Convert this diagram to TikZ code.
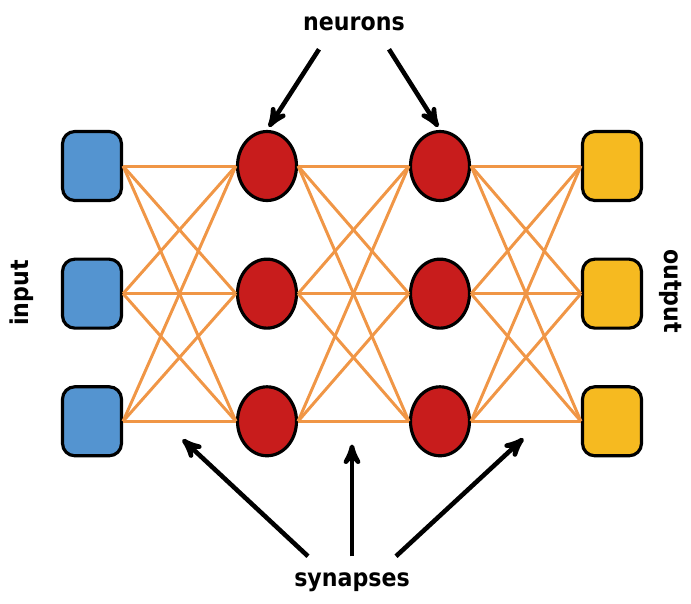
\documentclass[tikz,border=0pt]{standalone}
\usepackage{fontspec}
\setmainfont{DejaVu Sans Condensed}
\usetikzlibrary{arrows,positioning,shapes.geometric}

\definecolor{inblue}{RGB}{84,148,208}
\definecolor{neured}{RGB}{200,28,28}
\definecolor{outyel}{RGB}{246,186,32}
\definecolor{synorg}{RGB}{240,150,70}

\begin{document}
\begin{tikzpicture}[x=0.02cm,y=-0.02cm,>=stealth',
    unit/.style={draw=black,line width=1.8pt,minimum width=1.18cm,minimum height=1.38cm,inner sep=0pt},
    inunit/.style={unit,fill=inblue,rounded corners=7pt},
    outunit/.style={unit,fill=outyel,rounded corners=7pt},
    neuron/.style={unit,fill=neured,ellipse},
    synapse/.style={draw=synorg,line width=1.7pt},
    pointer/.style={->,line width=2.6pt,shorten >=2pt},
    label/.style={font=\bfseries\fontsize{14}{16}\selectfont}]
  \useasboundingbox (0,0) rectangle (691,603);
  % units
  \node[inunit]  (i1) at (92,166) {};
  \node[inunit]  (i2) [below=1.11cm of i1] {};
  \node[inunit]  (i3) [below=1.11cm of i2] {};
  \node[neuron]  (a1) at (267,166) {};
  \node[neuron]  (a2) [below=1.11cm of a1] {};
  \node[neuron]  (a3) [below=1.11cm of a2] {};
  \node[neuron]  (b1) at (440,166) {};
  \node[neuron]  (b2) [below=1.11cm of b1] {};
  \node[neuron]  (b3) [below=1.11cm of b2] {};
  \node[outunit] (o1) at (612,166) {};
  \node[outunit] (o2) [below=1.11cm of o1] {};
  \node[outunit] (o3) [below=1.11cm of o2] {};
  % synapses
  \foreach \s in {1,2,3}
    \foreach \t in {1,2,3} {
      \path[synapse] (i\s.east) -- (a\t.west);
      \path[synapse] (a\s.east) -- (b\t.west);
      \path[synapse] (b\s.east) -- (o\t.west);
    }
  % labels
  \node[label] (neu) at (354,24) {neurons};
  \node[label] (syn) at (352,582) {synapses};
  \node[label,rotate=90]  (inp) at (22,293) {input};
  \node[label,rotate=-90] (out) at (671,291) {output};
  \coordinate (s1) at (180,437);
  \coordinate (s2) at (352,441);
  \coordinate (s3) at (526,436);
  \path[pointer] (neu.south west) ++(22,12) edge (a1.north);
  \path[pointer] (neu.south east) ++(-22,12) edge (b1.north);
  \path[pointer] (syn.north) ++(-44,-10) edge (s1);
  \path[pointer] (syn.north) ++(0,-10) edge (s2);
  \path[pointer] (syn.north) ++(44,-10) edge (s3);
\end{tikzpicture}
\end{document}
